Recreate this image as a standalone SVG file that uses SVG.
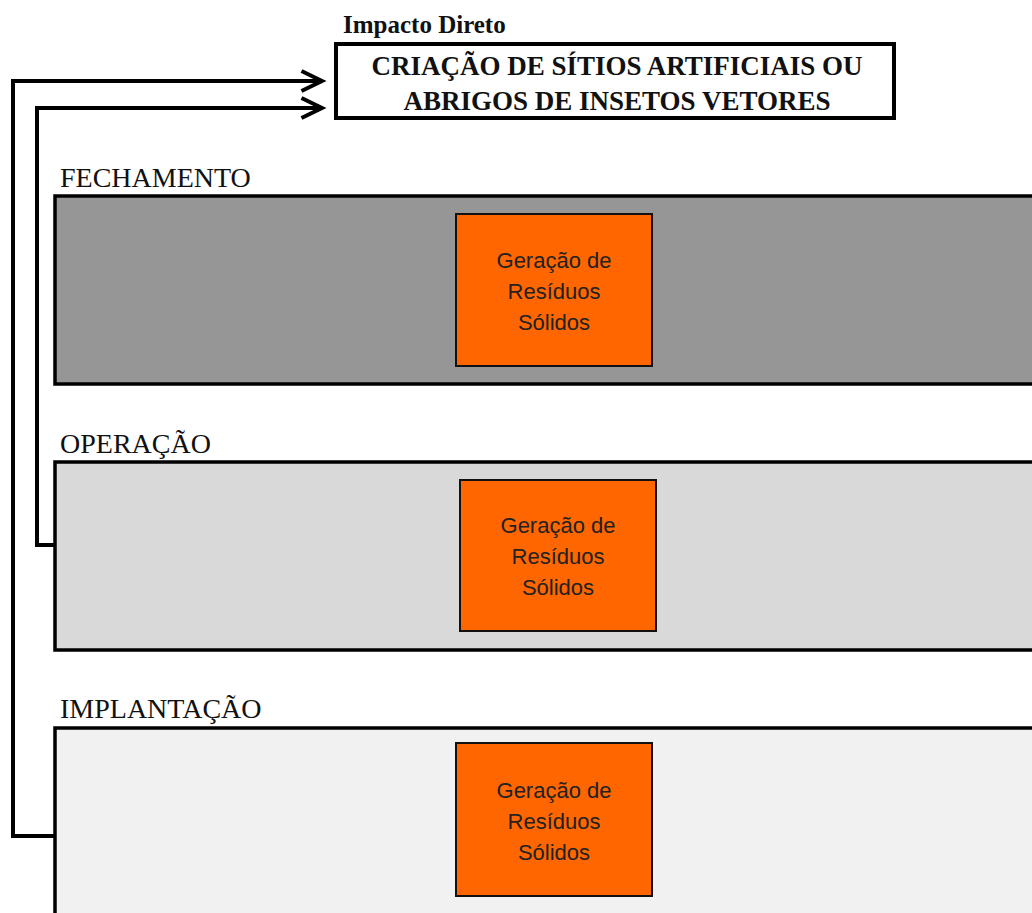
<svg xmlns="http://www.w3.org/2000/svg" width="1032" height="913" viewBox="0 0 1032 913">
<style>
.panel{stroke:#000;stroke-width:3.5}
.phase{font-family:"Liberation Serif","Times New Roman",serif;font-size:28px;fill:#111}
.box{fill:#ff6600;stroke:#111;stroke-width:2}
.btxt{font-family:"Liberation Sans",Arial,sans-serif;font-size:22px;fill:#222;text-anchor:middle}
.title{font-family:"Liberation Serif","Times New Roman",serif;font-weight:bold;font-size:27px;fill:#111;text-anchor:middle}
.conn{fill:none;stroke:#000;stroke-width:4}
</style>
<defs>
<marker id="arr" markerWidth="8" markerHeight="10" refX="6.5" refY="5" orient="auto" markerUnits="userSpaceOnUse" viewBox="0 0 8 10" overflow="visible">
<path d="M-14,-5 L6.5,5 L-14,15" fill="none" stroke="#000" stroke-width="4"/>
</marker>
</defs>
<rect width="1032" height="913" fill="#fff"/>
<g id="impacto">
<text x="343" y="33" font-family="Liberation Serif,'Times New Roman',serif" font-weight="bold" font-size="25" fill="#111">Impacto Direto</text>
<rect x="336" y="44" width="558" height="74" fill="#fff" stroke="#000" stroke-width="4"/>
<text class="title" x="617" y="75">CRIAÇÃO DE SÍTIOS ARTIFICIAIS OU</text>
<text class="title" x="617" y="110">ABRIGOS DE INSETOS VETORES</text>
</g>
<g id="fechamento">
<text class="phase" x="60" y="187">FECHAMENTO</text>
<rect class="panel" x="55" y="196" width="1000" height="188" fill="#969696"/>
<rect class="box" x="456" y="214" width="196" height="152"/>
<text class="btxt" x="554" y="268">Geração de</text>
<text class="btxt" x="554" y="299">Resíduos</text>
<text class="btxt" x="554" y="330">Sólidos</text>
</g>
<g id="operacao">
<text class="phase" x="60" y="453">OPERAÇÃO</text>
<rect class="panel" x="55" y="462" width="1000" height="188" fill="#d9d9d9"/>
<rect class="box" x="460" y="480" width="196" height="151"/>
<text class="btxt" x="558" y="533">Geração de</text>
<text class="btxt" x="558" y="564">Resíduos</text>
<text class="btxt" x="558" y="595">Sólidos</text>
</g>
<g id="implantacao">
<text class="phase" x="60" y="718">IMPLANTAÇÃO</text>
<rect class="panel" x="55" y="728" width="1000" height="200" fill="#f1f1f1"/>
<rect class="box" x="456" y="743" width="196" height="153"/>
<text class="btxt" x="554" y="798">Geração de</text>
<text class="btxt" x="554" y="829">Resíduos</text>
<text class="btxt" x="554" y="860">Sólidos</text>
</g>
<g id="connectors">
<path class="conn" d="M55,836 L13,836 L13,81 L322,81" marker-end="url(#arr)"/>
<path class="conn" d="M55,545 L37,545 L37,108 L322,108" marker-end="url(#arr)"/>
</g>
</svg>
